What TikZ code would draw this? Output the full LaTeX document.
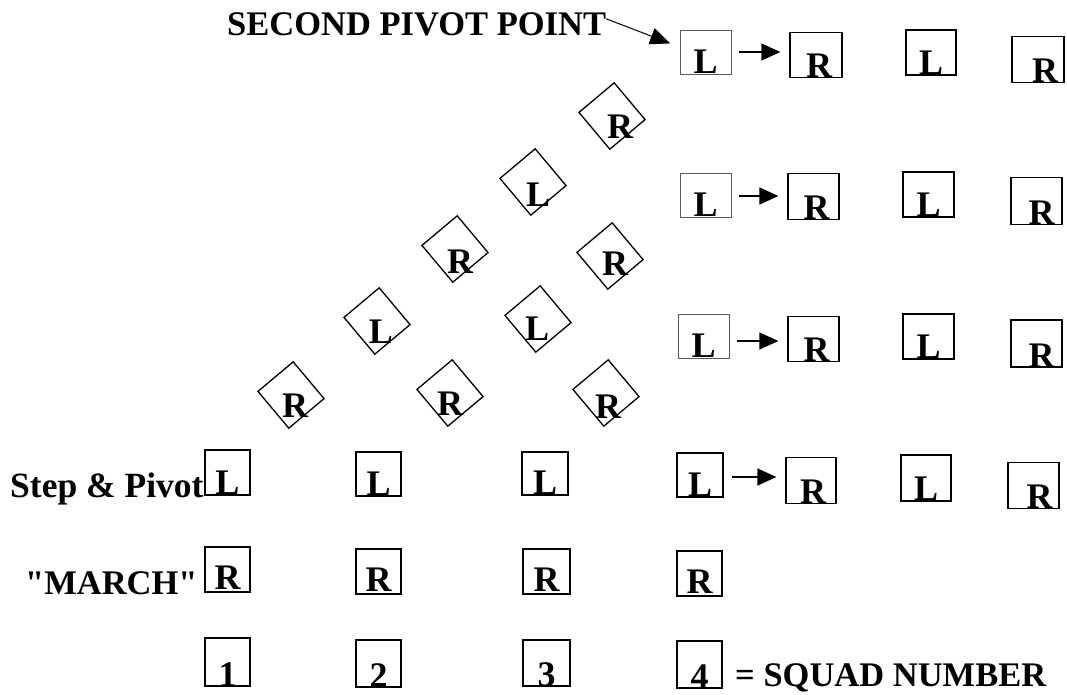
\documentclass[tikz,border=0pt]{standalone}
\usepackage{fontspec}
\setmainfont{Liberation Serif}
\usetikzlibrary{arrows.meta}
\begin{document}
\begin{tikzpicture}[x=1pt,y=-1pt,
 every node/.style={font=\fontsize{34.5}{40}\selectfont\bfseries},
 bx/.style n args={3}{draw, line width=1.3pt, inner sep=0pt, minimum width=#1pt, minimum height=1pt, text height=#2pt, text depth=#3pt, font=\fontsize{36}{40}\selectfont\bfseries},
 thinbox/.style={draw=black!65, line width=0.9pt},
 dmd/.style={draw, line width=1.3pt, rotate=40, minimum width=46pt, minimum height=48pt, inner sep=0pt},
 ltr/.style={inner sep=0pt, anchor=base, font=\fontsize{36}{40}\selectfont\bfseries},
 txt/.style={inner sep=0pt, anchor=base west},
 arr/.style={-{Triangle[length=19pt,width=17pt]}, line width=1.4pt, shorten <=8pt, shorten >=9pt},
 arrtwo/.style={-{Triangle[length=20pt,width=17pt]}, line width=1pt, shorten >=10pt}
]
\useasboundingbox (0,0) rectangle (1067,694);

% texts
\node[txt] (spp) at (227,35) {SECOND PIVOT POINT};
\node[txt, font=\fontsize{35.5}{40}\selectfont\bfseries] (stp) at (10,497) {Step \& Pivot};
\node[txt] (mar) at (25,594) {\textquotedbl MARCH\textquotedbl};
\node[txt] (sqd) at (735,686) {= SQUAD NUMBER};

% row 1
\node[bx={51}{43}{1}, thinbox] (a1) at (705.5,52) {L};
\node[bx={52}{45}{-1}] (b1) at (816,55) {\hspace*{6pt}R};
\node[bx={50}{44}{1}] (c1) at (931,52.5) {L};
\node[bx={52}{46}{-1}] (e1) at (1038,59.5) {\hspace*{14pt}R};
% row 2
\node[bx={51}{43}{1}, thinbox] (a2) at (705.5,195) {L};
\node[bx={51}{46}{-1}] (b2) at (813.5,196.5) {\hspace*{6pt}R};
\node[bx={51}{44}{1}] (c2) at (928.5,194.5) {L};
\node[bx={51}{47}{-3}] (e2) at (1036.5,201) {\hspace*{10pt}R};
% row 3
\node[bx={51}{43}{1}, thinbox] (a3) at (703.5,336) {L};
\node[bx={51}{45}{-1}] (b3) at (813.5,339) {\hspace*{6pt}R};
\node[bx={51}{44}{1}] (c3) at (928.5,336.5) {L};
\node[bx={51}{47}{-2}] (e3) at (1036.5,343.5) {\hspace*{10pt}R};
% row 4
\node[bx={45}{44}{1}] (s1) at (227.5,472.5) {L};
\node[bx={45}{43}{1}] (s2) at (378.5,474) {L};
\node[bx={46}{42}{1}] (s3) at (545,473.5) {L};
\node[bx={46}{43}{1}] (s4) at (700,475) {L};
\node[bx={50}{46}{-1}] (s5) at (811,480.5) {\hspace*{4pt}R};
\node[bx={50}{45}{1}] (s6) at (926,478) {L};
\node[bx={51}{46}{-1}] (s7) at (1033.5,485.5) {\hspace*{12pt}R};
% row 5
\node[bx={45}{42}{3}] (m1) at (227.5,569.5) {R};
\node[bx={45}{42}{3}] (m2) at (378.5,571.5) {R};
\node[bx={47}{42}{3}] (m3) at (546.5,571.5) {R};
\node[bx={45}{42}{3}] (m4) at (699.5,573.5) {R};
% row 6
\node[bx={45}{48}{-2}] (n1) at (227.5,662) {1};
\node[bx={45}{47}{-2}] (n2) at (378.5,663.5) {2};
\node[bx={47}{46}{-2}] (n3) at (546.5,663) {3};
\node[bx={45}{47}{-2}] (n4) at (699.5,664.5) {4};

% diamonds
\node[dmd] (dA) at (612,116) {}; \node[ltr] (dAl) at (620,138) {R};
\node[dmd] (dB) at (533,182) {}; \node[ltr] (dBl) at (538,206) {L};
\node[dmd] (dC) at (455,249) {}; \node[ltr] (dCl) at (460,273) {R};
\node[dmd] (dD) at (610,256) {}; \node[ltr] (dDl) at (615,275) {R};
\node[dmd] (dE) at (377,321) {}; \node[ltr] (dEl) at (381,343) {L};
\node[dmd] (dF) at (538,319) {}; \node[ltr] (dFl) at (537,340) {L};
\node[dmd] (dG) at (291,395) {}; \node[ltr] (dGl) at (295,417) {R};
\node[dmd] (dH) at (450,393) {}; \node[ltr] (dHl) at (450,415) {R};
\node[dmd] (dI) at (606,393) {}; \node[ltr] (dIl) at (608,418) {R};

% arrows
\draw[arrtwo] ([yshift=5pt]spp.east) -- ([yshift=5pt]a1.west);
\draw[arr] (a1.east) -- (a1.east -| b1.west);
\draw[arr] ([yshift=-1pt]a2.east) -- ([yshift=-1pt]a2.east -| b2.west);
\draw[arr] ([yshift=-5pt]a3.east) -- ([yshift=-5pt]a3.east -| b3.west);
\draw[arr] ([yshift=-2pt]s4.east) -- ([yshift=-2pt]s4.east -| s5.west);
\end{tikzpicture}
\end{document}
